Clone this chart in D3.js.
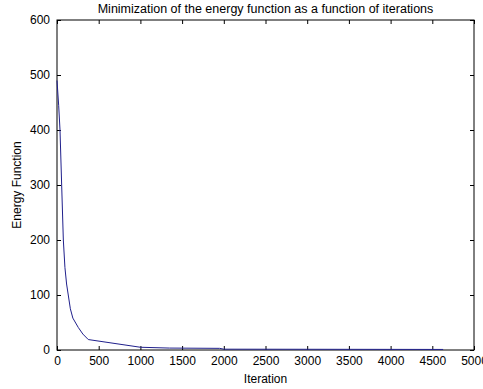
<!DOCTYPE html>
<html>
<head>
<meta charset="utf-8">
<script src="https://cdn.jsdelivr.net/npm/d3@7"></script>
<style>
  body { margin: 0; background: #fff; }
  svg { display: block; font-family: "Liberation Sans", Arial, sans-serif; }
</style>
</head>
<body>
<svg id="chart" width="483" height="389"></svg>
<script>
// values
const iterations = [0, 20, 36, 56, 76, 95, 115, 135, 160, 190, 255, 310, 375, 1000, 1350, 1950, 2000, 4630]
const energy = [490, 445, 400, 300, 200, 150, 120, 100, 75, 58, 41, 29, 19, 5, 3.5, 3, 1.5, 1]
const xTicks = [0, 500, 1000, 1500, 2000, 2500, 3000, 3500, 4000, 4500, 5000]
const yTicks = [0, 100, 200, 300, 400, 500, 600]
const title = 'Minimization of the energy function as a function of iterations'
const xLabel = 'Iteration'
const yLabel = 'Energy Function'

const margin = {left: 57, right: 9, top: 20, bottom: 39}
const width = 483 - margin.left - margin.right
const height = 389 - margin.top - margin.bottom
const tickLen = 4
const fontSize = 12

let svg = d3.select('#chart')
let canvas = svg.append('g')
  .attr('transform', `translate(${margin.left}, ${margin.top})`)

let xScale = d3.scaleLinear().domain([0, 5000]).range([0, width])
let yScale = d3.scaleLinear().domain([0, 600]).range([height, 0])
let fmt = d3.format('d')

// bottom + left axes with labels, ticks pointing inward
let xAxis = canvas.append('g')
  .attr('transform', `translate(0, ${height})`)
  .call(d3.axisBottom(xScale).tickValues(xTicks).tickFormat(fmt).tickSizeInner(-tickLen).tickSizeOuter(0).tickPadding(6))
let yAxis = canvas.append('g')
  .call(d3.axisLeft(yScale).tickValues(yTicks).tickFormat(fmt).tickSizeInner(-tickLen).tickSizeOuter(0).tickPadding(7))
// top + right mirror ticks, no labels
let xTop = canvas.append('g')
  .call(d3.axisTop(xScale).tickValues(xTicks).tickSizeInner(-tickLen).tickSizeOuter(0).tickFormat(''))
let yRight = canvas.append('g')
  .attr('transform', `translate(${width}, 0)`)
  .call(d3.axisRight(yScale).tickValues(yTicks).tickSizeInner(-tickLen).tickSizeOuter(0).tickFormat(''))

for (let ax of [xAxis, yAxis, xTop, yRight]) {
  ax.select('.domain').remove()
  ax.selectAll('line').style('stroke', '#000')
  ax.selectAll('text')
    .style('font-size', fontSize + 'px')
    .style('font-family', 'inherit')
    .style('fill', '#000')
}

canvas.append('rect')
  .attr('width', width)
  .attr('height', height)
  .style('fill', 'none')
  .style('stroke', '#000')
  .style('stroke-width', 1)

let lineGenerator = d3.line()
  .x((d, i) => xScale(iterations[i]))
  .y(d => yScale(d))
canvas.append('path')
  .attr('d', lineGenerator(energy))
  .style('fill', 'none')
  .style('stroke', '#20208c')
  .style('stroke-width', 1)

svg.append('text')
  .attr('x', margin.left + width / 2)
  .attr('y', 13)
  .style('text-anchor', 'middle')
  .style('font-size', '12.5px')
  .text(title)

svg.append('text')
  .attr('x', margin.left + width / 2)
  .attr('y', 383)
  .style('text-anchor', 'middle')
  .style('font-size', fontSize + 'px')
  .text(xLabel)

svg.append('text')
  .attr('transform', `translate(21, ${margin.top + height / 2}) rotate(-90)`)
  .style('text-anchor', 'middle')
  .style('font-size', fontSize + 'px')
  .text(yLabel)
</script>
</body>
</html>
